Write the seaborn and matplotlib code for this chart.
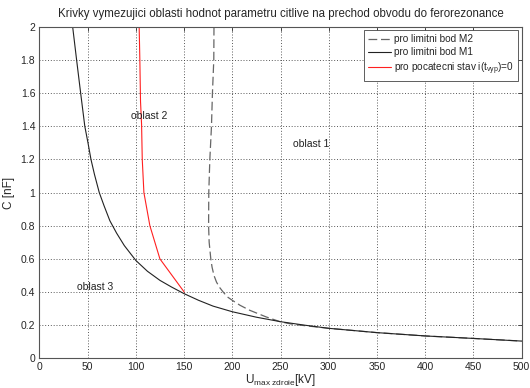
import matplotlib
matplotlib.use("Agg")
import matplotlib.pyplot as plt
import seaborn as sns
import pandas as pd

# Data
m2_u = [181, 180.8, 179.4, 178.4, 176.7, 175.6, 175.4, 176, 177.7, 179, 181, 183.6, 186.5, 190.5, 195, 200, 208, 218, 235, 250, 263, 300, 350, 400, 450, 500]
m2_c = [2.0, 1.8, 1.6, 1.4, 1.2, 1.0, 0.8, 0.7, 0.6, 0.55, 0.5, 0.46, 0.43, 0.40, 0.37, 0.35, 0.32, 0.29, 0.25, 0.22, 0.205, 0.181, 0.155, 0.135, 0.12, 0.104]

m1_u = [34.4, 38.5, 42.7, 47, 50.3, 53.4, 57, 62, 67, 73, 80, 88, 100, 112, 125, 137, 150, 165, 180, 200, 225, 250, 275, 300, 350, 400, 450, 500]
m1_c = [2.0, 1.8, 1.6, 1.4, 1.3, 1.2, 1.11, 1.0, 0.92, 0.83, 0.755, 0.68, 0.59, 0.525, 0.47, 0.43, 0.39, 0.35, 0.315, 0.281, 0.248, 0.221, 0.2, 0.181, 0.155, 0.135, 0.12, 0.104]

red_u = [103.4, 104.1, 104.8, 105.9, 106.6, 108.3, 114.5, 124.9, 150.1]
red_c = [2.0, 1.8, 1.55, 1.41, 1.2, 1.0, 0.8, 0.6, 0.4]

labels = ["pro limitni bod M2", "pro limitni bod M1", r"pro pocatecni stav i(t$_{vyp}$)=0"]
title = "Krivky vymezujici oblasti hodnot parametru citlive na prechod obvodu do ferorezonance"
regions = ["oblast 1", "oblast 2", "oblast 3"]
region_u = [263, 94.5, 38.5]
region_c = [1.29, 1.46, 0.43]
xticks = [0, 50, 100, 150, 200, 250, 300, 350, 400, 450, 500]
yticks = [0, 0.2, 0.4, 0.6, 0.8, 1, 1.2, 1.4, 1.6, 1.8, 2]

sns.set_style("white")
plt.rcParams["font.family"] = ["Liberation Sans", "DejaVu Sans"]
plt.rcParams["mathtext.default"] = "regular"

fig = plt.figure(figsize=(5.3, 3.88), dpi=100)
ax = fig.add_axes([0.0745, 0.0765, 0.9095, 0.8545])

df_m2 = pd.DataFrame({"U": m2_u, "C": m2_c})
df_m1 = pd.DataFrame({"U": m1_u, "C": m1_c})
df_r = pd.DataFrame({"U": red_u, "C": red_c})

sns.lineplot(data=df_m2, x="U", y="C", ax=ax, sort=False, estimator=None, color="#666666",
             lw=0.9, label=labels[0])
ax.lines[-1].set_dashes([7, 3])
sns.lineplot(data=df_m1, x="U", y="C", ax=ax, sort=False, estimator=None, color="#222222",
             lw=0.8, label=labels[1])
sns.lineplot(data=df_r, x="U", y="C", ax=ax, sort=False, estimator=None, color="#ff2020",
             lw=0.8, label=labels[2])

for t, u, c in zip(regions, region_u, region_c):
    ax.text(u, c, t, fontsize=7.5, va="center", ha="left", color="#222222")

ax.set_xlim(0, 500)
ax.set_ylim(0, 2)
ax.set_xticks(xticks)
ax.set_xticklabels([str(v) for v in xticks])
ax.set_yticks(yticks)
ax.set_yticklabels(["0", "0.2", "0.4", "0.6", "0.8", "1", "1.2", "1.4", "1.6", "1.8", "2"])
ax.grid(True, linestyle=(0, (1.2, 2.2)), color="#444444", lw=0.6)
ax.tick_params(direction="in", length=3, width=0.6, labelsize=7.5, color="#333333",
               top=True, right=True, pad=3)
for s in ax.spines.values():
    s.set_color("#555555")
    s.set_linewidth(0.8)

ax.set_xlabel(r"U$_{max\ zdroie}$[kV]", fontsize=8.5, labelpad=0)
ax.set_ylabel("C [nF]", fontsize=8.5, labelpad=4)
ax.set_title(title, fontsize=8.3, pad=7)

leg = ax.legend(loc="upper right", fontsize=7.2, frameon=True, fancybox=False,
                edgecolor="#444444", framealpha=1, borderaxespad=0.35, handlelength=2.3,
                handletextpad=0.3, labelspacing=0.3, borderpad=0.4)
leg.get_frame().set_linewidth(0.6)

fig.savefig("out.png", dpi=100)
